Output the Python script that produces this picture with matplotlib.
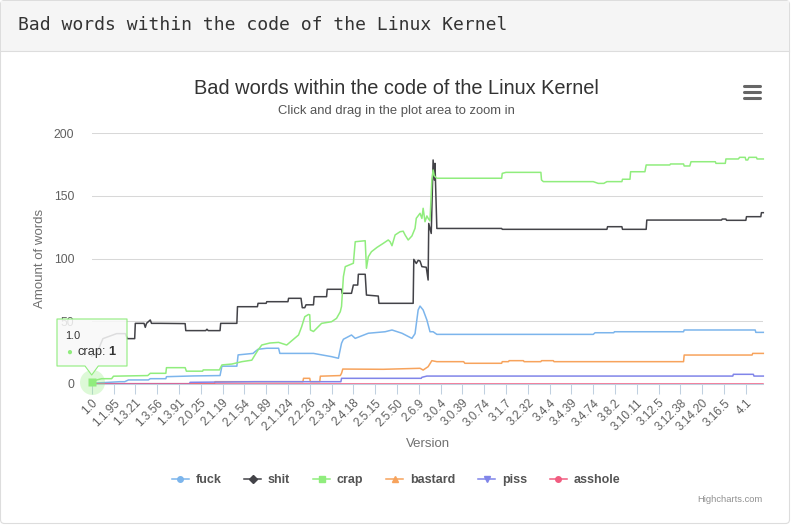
import numpy as np
import matplotlib
matplotlib.use('Agg')
import matplotlib.pyplot as plt
from matplotlib.patches import FancyBboxPatch, Rectangle, Polygon
from matplotlib.lines import Line2D

# x tick labels, one every 35 kernel versions
tick_labels = ['1.0', '1.1.95', '1.3.21', '1.3.56', '1.3.91', '2.0.25', '2.1.19',
               '2.1.54', '2.1.89', '2.1.124', '2.2.26', '2.3.34', '2.4.18', '2.5.15',
               '2.5.50', '2.6.9', '3.0.4', '3.0.39', '3.0.74', '3.1.7', '3.2.32',
               '3.4.4', '3.4.39', '3.4.74', '3.8.2', '3.10.11', '3.12.5', '3.12.38',
               '3.14.20', '3.16.5', '4.1']
tick_step = 35
n_versions = 1079

series_names = ['fuck', 'shit', 'crap', 'bastard', 'piss', 'asshole']
series_colors = ['#7cb5ec', '#434348', '#90ed7d', '#f7a35c', '#8085e9', '#f15c80']
legend_markers = ['o', 'D', 's', '^', 'v', 'o']

# (version index, count)
fuck_x = [0, 45, 53, 59, 91, 94, 119, 120, 163, 206, 209, 233, 235, 259, 262, 267, 281, 300,
          302, 356, 385, 396, 401, 404, 417, 423, 444, 471, 482, 498, 514, 519, 524, 527,
          532, 538, 543, 548, 554, 805, 808, 838, 839, 950, 951, 1065, 1066, 1078]
fuck_y = [0.3, 1.6, 1.6, 3, 3, 4, 4, 5.6, 6.2, 6.5, 14, 14, 23, 24.2, 25.5, 27.5, 28.3, 28.3,
          24.2, 24.2, 21.6, 20.3, 32.3, 35.5, 38.9, 36.2, 40.3, 41.5, 42.9, 40.3, 36.2, 40,
          58.9, 62, 58.9, 50.9, 41.5, 41.5, 39.4, 39.4, 40.7, 40.7, 41.5, 41.5, 42.9, 42.9, 41, 41]

shit_x = [0, 8, 18, 40, 54, 57, 69, 70, 84, 86, 88, 94, 96, 110, 150, 151, 183, 185, 187, 206,
          207, 233, 234, 266, 267, 280, 281, 315, 316, 336, 338, 342, 344, 356, 357, 377, 378,
          401, 402, 417, 420, 427, 428, 439, 441, 460, 461, 516, 517, 521, 524, 527, 530, 537,
          540, 541, 545, 548, 550, 551, 554, 658, 659, 827, 828, 851, 852, 890, 891, 1011,
          1012, 1018, 1019, 1050, 1051, 1074, 1075, 1078]
shit_y = [22, 24, 36, 40, 40, 36, 36, 48.2, 48.2, 45, 48.2, 50.9, 48.2, 48.2, 48, 42.4, 42.4,
          43.5, 42.4, 42.4, 48.2, 48.2, 61.5, 61.5, 64.2, 64.2, 65.5, 65.5, 68.2, 68.2, 60.7,
          60.7, 63, 63, 69.5, 69.5, 75.4, 75.4, 72.2, 72.2, 78.8, 78.8, 87.4, 87.4, 70.8, 70,
          64.2, 64.2, 99.3, 96, 98.5, 98, 93.5, 93, 82.8, 128, 120, 178.7, 162.7, 176, 124,
          124, 123.3, 123.3, 125.4, 125.4, 123.3, 123.3, 130.7, 130.7, 131.5, 131.5, 130.5,
          130.5, 133.4, 133.4, 136.6, 136.6]

crap_x = [0, 8, 16, 32, 35, 56, 90, 94, 119, 120, 150, 152, 178, 179, 205, 209, 225, 241, 257,
          262, 267, 273, 286, 300, 313, 332, 337, 342, 348, 350, 351, 356, 369, 385, 393, 399,
          401, 404, 407, 420, 423, 439, 441, 444, 449, 458, 468, 476, 479, 482, 487, 495, 500,
          503, 508, 514, 519, 521, 527, 530, 532, 535, 538, 540, 543, 546, 548, 550, 554, 658,
          659, 665, 721, 722, 725, 805, 813, 822, 827, 851, 852, 864, 865, 888, 890, 928, 929,
          950, 951, 960, 962, 1001, 1002, 1017, 1018, 1038, 1040, 1049, 1050, 1053, 1055,
          1067, 1068, 1078]
crap_y = [1, 3, 4, 4, 6, 6.2, 6.5, 8.3, 8.3, 12.8, 12.8, 10, 10, 11, 11, 15, 15.7, 17.6, 18.8,
          22.9, 26.9, 30.9, 32.5, 33, 30.9, 38.9, 45.5, 53.5, 55.3, 55, 42.9, 41.7, 48.2, 49.5,
          52.2, 57.5, 61.7, 85.5, 93.5, 96.2, 113.4, 114.2, 92.2, 101.4, 105.4, 108.9, 112.1,
          114.8, 113.4, 110.2, 118.8, 121.4, 121.8, 118.8, 114.8, 118, 124.1, 132.1, 136.1,
          132, 140.1, 129.4, 134, 132.1, 130, 162.7, 170.7, 166, 164.1, 164.1, 168, 168.8,
          168.8, 162.7, 161.4, 161.4, 160, 160, 161.4, 161.4, 163.3, 163.3, 169.3, 169.3,
          174.7, 174.7, 175.5, 175.5, 173.9, 173.9, 177.3, 177.3, 176, 176, 179.5, 179.5,
          180.8, 180.8, 178.7, 178.7, 180.8, 180.8, 179.5, 179.5]

bastard_x = [0, 197, 198, 339, 340, 350, 351, 366, 367, 399, 401, 403, 468, 527, 532, 540, 546,
             554, 597, 599, 658, 659, 669, 670, 693, 694, 721, 722, 741, 742, 950, 951, 1060,
             1061, 1078]
bastard_y = [0, 0, 1.6, 1.6, 4.3, 4.3, 1.6, 1.6, 6, 6.5, 8.3, 11.7, 11.5, 12.3, 10.9, 13.6,
             18.4, 17.6, 17.6, 16.3, 16.3, 17.6, 17.6, 18.4, 18.4, 17.6, 17.6, 18.4, 18.4,
             17.6, 17.6, 22.9, 22.9, 24.2, 24.2]

piss_x = [0, 157, 158, 262, 400, 401, 529, 530, 538, 1029, 1030, 1062, 1063, 1078]
piss_y = [0, 0, 1.1, 1.6, 1.6, 4.3, 4.3, 5.1, 6.1, 6.1, 7.5, 7.5, 6.1, 6.1]

asshole_x = [0, 1078]
asshole_y = [0, 0]

W, H = 796, 528


def main():
    plt.rcParams['font.family'] = ['Liberation Sans', 'DejaVu Sans']

    fig = plt.figure(figsize=(W / 100, H / 100), dpi=100)
    fig.patch.set_facecolor('white')

    # page panel + header (pixel coordinates)
    bg = fig.add_axes([0, 0, 1, 1], zorder=0)
    bg.set_xlim(0, W)
    bg.set_ylim(H, 0)
    bg.axis('off')
    bg.add_patch(FancyBboxPatch((0.5, 0.5), 789, 523,
                                boxstyle='round,pad=0,rounding_size=4',
                                fc='white', ec='#dddddd', lw=0.8))
    bg.add_patch(Rectangle((1.2, 1.2), 787.6, 49.3, fc='#f5f5f5', ec='none'))
    bg.plot([1, 789], [50.5, 50.5], color='#dddddd', lw=0.8)
    bg.text(18, 25, 'Bad words within the code of the Linux Kernel',
            family=['DejaVu Sans Mono'], fontsize=13, color='#333333', va='center')
    for yy in (85.5, 91.5, 97.5):
        bg.plot([744, 760], [yy, yy], color='#666666', lw=2.2, solid_capstyle='round')

    fig.text(396 / W, 1 - 88 / H, 'Bad words within the code of the Linux Kernel',
             ha='center', va='center', fontsize=14.4, color='#333333')
    fig.text(396 / W, 1 - 111 / H, 'Click and drag in the plot area to zoom in',
             ha='center', va='center', fontsize=9.4, color='#555555')

    # plot area
    ax = fig.add_axes([91.7 / W, 1 - 383.7 / H, (763.3 - 91.7) / W, (383.7 - 133.3) / H],
                      zorder=1)
    ax.set_facecolor('none')

    xs = [fuck_x, shit_x, crap_x, bastard_x, piss_x, asshole_x]
    ys = [fuck_y, shit_y, crap_y, bastard_y, piss_y, asshole_y]
    for x, y, c in zip(xs, ys, series_colors):
        ax.plot(x, y, color=c, lw=1.1, clip_on=False, solid_joinstyle='round')

    # hovered point of the tooltip
    ax.plot(crap_x[0], crap_y[0], 'o', ms=18, color='#90ed7d', alpha=0.3, mec='none',
            clip_on=False, zorder=5)
    ax.plot(crap_x[0], crap_y[0], 's', ms=5.5, color='#90ed7d', mec='none',
            clip_on=False, zorder=6)

    ax.set_xlim(0, n_versions - 1)
    ax.set_ylim(0, 200)
    ax.set_xticks(np.arange(len(tick_labels)) * tick_step)
    ax.set_xticklabels(tick_labels, rotation=45, ha='right', rotation_mode='anchor',
                       fontsize=8.5, color='#606060')
    ax.set_yticks([0, 50, 100, 150, 200])
    ax.tick_params(axis='y', length=0, pad=12.5, labelsize=8.8, labelcolor='#606060')
    ax.tick_params(axis='x', length=7.5, width=0.75, color='#C0D0E0', pad=2)
    ax.yaxis.grid(True, color='#D8D8D8', lw=0.75)
    ax.set_axisbelow(True)
    for s in ('top', 'right', 'left'):
        ax.spines[s].set_visible(False)
    ax.spines['bottom'].set_color('#C0D0E0')
    ax.spines['bottom'].set_linewidth(0.75)

    fig.text(40 / W, 1 - 258 / H, 'Amount of words', rotation=90, ha='center',
             va='center', fontsize=9.5, color='#707070')
    fig.text(427.5 / W, 1 - 444 / H, 'Version', ha='center', va='center',
             fontsize=9.5, color='#707070')

    handles = [Line2D([], [], color=c, marker=m, ms=4, lw=1.1)
               for c, m in zip(series_colors, legend_markers)]
    fig.legend(handles, series_names, loc='center', bbox_to_anchor=(396 / W, 1 - 480 / H),
               ncol=6, frameon=False, prop={'size': 9, 'weight': 'bold'},
               labelcolor='#555555', handlelength=1.33, handletextpad=0.55,
               columnspacing=1.85)

    fig.text(763 / W, 1 - 499 / H, 'Highcharts.com', ha='right', va='center',
             fontsize=6.75, color='#909090')

    # tooltip
    top = fig.add_axes([0, 0, 1, 1], zorder=3)
    top.set_xlim(0, W)
    top.set_ylim(H, 0)
    top.axis('off')
    top.add_patch(Polygon([(57, 319), (127, 319), (127, 366), (98.3, 366), (91.7, 375),
                           (85, 366), (57, 366)], closed=True,
                          fc=(0.976, 0.976, 0.976, 0.85), ec='#90ed7d', lw=0.8,
                          joinstyle='round'))
    top.text(65, 336, '1.0', fontsize=7.8, color='#333333', va='center')
    top.text(66, 352, '\u25cf', fontsize=7, color='#90ed7d', va='center')
    top.text(77, 352, 'crap:', fontsize=9.3, color='#333333', va='center')
    top.text(108, 352, '1', fontsize=9.3, color='#333333', va='center', weight='bold')

    fig.savefig('out.png', dpi=100)
    plt.close('all')


if __name__ == "__main__":
    main()
